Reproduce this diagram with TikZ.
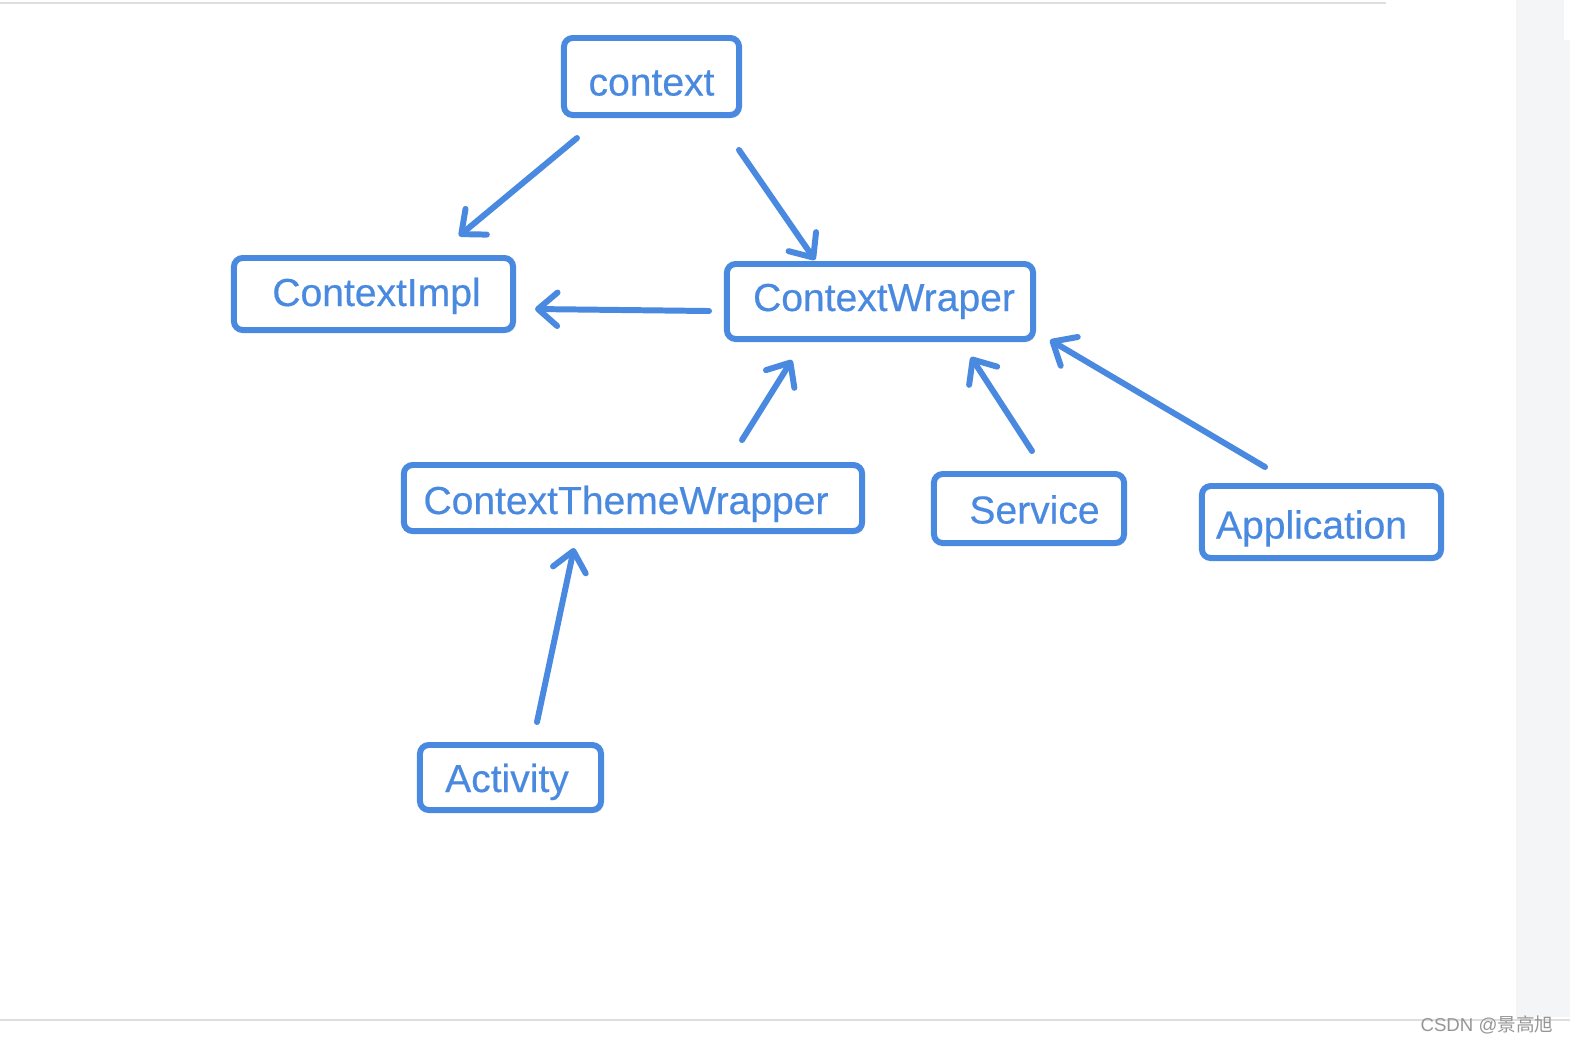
\documentclass[tikz,border=0pt]{standalone}
\usepackage{fontspec}
\setmainfont{Liberation Sans}
\newfontfamily\boxfont[FakeBold=0.45]{Liberation Sans}
\newfontfamily\cjkfont{Noto Sans CJK SC}
\usetikzlibrary{arrows.meta,calc,shadows}
\definecolor{cblue}{RGB}{74,137,224}
\definecolor{panelgray}{RGB}{244,245,247}
\definecolor{rulegray}{RGB}{222,222,222}
\definecolor{wmgray}{RGB}{150,150,150}
% place box text: #1 = twice the x shift, #2 = baseline below node centre
\newcommand\mvtxt[3]{\raisebox{-#2}[0pt][0pt]{\makebox[0pt]{\hspace*{#1}#3}}}
\tikzset{
  box/.style={draw=cblue, line width=1.7pt, rounded corners=2.5pt, fill=white,
    text=cblue, font=\boxfont\fontsize{11.1pt}{13pt}\selectfont, inner sep=0pt,
    drop shadow={opacity=0.25, shadow xshift=0.6pt, shadow yshift=-0.8pt}},
  arr/.style={draw=cblue, line width=1.7pt, line cap=round,
    -{Straight Barb[length=5.5pt,width=9.5pt,round]}},
}
\begin{document}
\begin{tikzpicture}[x=0.01cm,y=-0.01cm]
\useasboundingbox (0,0) rectangle (1570,1044);
\fill[white] (0,0) rectangle (1570,1044);
% background page elements
\fill[panelgray] (1516,0) rectangle (1570,1017);
\fill[white] (1564,0) rectangle (1570,40);
\draw[rulegray, line width=0.6pt] (0,3) -- (1386,3);
\draw[rulegray, line width=0.6pt] (0,1020) -- (1570,1020);
% nodes
\node[box, minimum width=1.75cm, minimum height=0.77cm] (ctx) at (651.5,76.5) {\mvtxt{0cm}{0.19cm}{context}};
\node[box, minimum width=2.79cm, minimum height=0.72cm] (impl) at (373.5,294) {\mvtxt{0.06cm}{0.12cm}{ContextImpl}};
\node[box, minimum width=3.06cm, minimum height=0.75cm] (wrap) at (880,301.5) {\mvtxt{0.08cm}{0.095cm}{ContextWraper}};
\node[box, minimum width=4.58cm, minimum height=0.66cm] (theme) at (633,498) {\mvtxt{-0.14cm}{0.16cm}{ContextThemeWrapper}};
\node[box, minimum width=1.90cm, minimum height=0.69cm] (serv) at (1029,508.5) {\mvtxt{0.11cm}{0.15cm}{Service}};
\node[box, minimum width=2.39cm, minimum height=0.72cm] (app) at (1321.5,522) {\mvtxt{-0.2cm}{0.165cm}{Application}};
\node[box, minimum width=1.81cm, minimum height=0.65cm] (act) at (510.5,777.5) {\mvtxt{-0.07cm}{0.145cm}{Activity}};
% connectors
\draw[arr] ($(ctx)+(-74.5,61.5)$) -- ($(impl)+(85.5,-58)$);
\draw[arr] ($(ctx)+(87.5,73.5)$) -- ($(wrap)+(-65,-41.5)$);
\draw[arr] ($(wrap)+(-171,9.5)$) -- ($(impl)+(161.5,15)$);
\draw[arr] ($(theme)+(109,-58)$) -- ($(wrap)+(-88,58.5)$);
\draw[arr] ($(serv)+(3,-57.5)$) -- ($(wrap)+(91,55.5)$);
\draw[arr] ($(app)+(-56.5,-55)$) -- ($(wrap)+(170,38.5)$);
\draw[arr] ($(act)+(26.5,-55.5)$) -- ($(theme)+(-59,50)$);
% watermark
\node[text=wmgray, font=\fontsize{5.3pt}{6pt}\selectfont, inner sep=0pt] (wm) at (1487,1025) {CSDN @{\cjkfont 景高旭}};
\end{tikzpicture}
\end{document}
